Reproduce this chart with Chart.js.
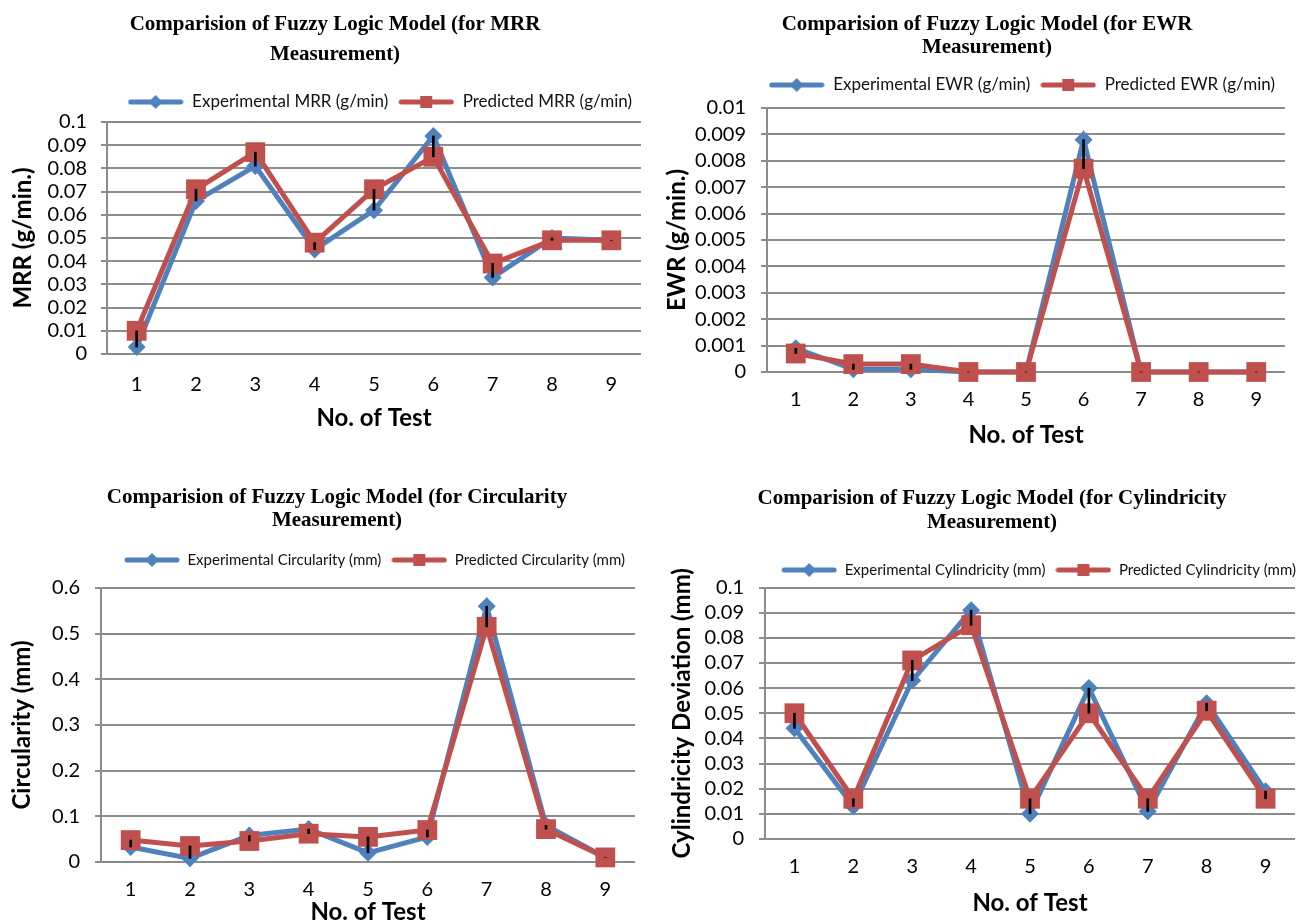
<!DOCTYPE html>
<html lang="en">
<head>
    <meta charset="UTF-8">
    <title>Comparision of Fuzzy Logic Model</title>
    <script src="https://cdn.jsdelivr.net/npm/chart.js@4"></script>
    <style>
        body {
            margin: 0;
            padding: 0;
            background: #fff;
            width: 1309px;
            height: 921px;
            overflow: hidden;
            position: relative;
        }
        canvas {
            position: absolute;
        }
    </style>
</head>
<body>
    <canvas id="mrrChart" width="655" height="440" style="left:0;top:0"></canvas>
    <canvas id="ewrChart" width="654" height="455" style="left:655px;top:0"></canvas>
    <canvas id="circChart" width="655" height="470" style="left:0;top:460px"></canvas>
    <canvas id="cylChart" width="654" height="461" style="left:655px;top:460px"></canvas>
    <script>
        // номера опытов
        const tests = ['1', '2', '3', '4', '5', '6', '7', '8', '9'];

        const mrrExp  = [0.003, 0.066, 0.081, 0.045, 0.062, 0.094, 0.033, 0.050, 0.049];
        const mrrPred = [0.010, 0.071, 0.087, 0.048, 0.071, 0.085, 0.039, 0.049, 0.049];

        const ewrExp  = [0.0009, 0.0001, 0.0001, 0, 0, 0.0088, 0, 0, 0];
        const ewrPred = [0.0007, 0.0003, 0.0003, 0, 0, 0.0077, 0, 0, 0];

        const circExp  = [0.033, 0.008, 0.058, 0.072, 0.020, 0.055, 0.560, 0.080, 0.010];
        const circPred = [0.048, 0.035, 0.046, 0.062, 0.055, 0.070, 0.515, 0.072, 0.010];

        const cylExp  = [0.044, 0.013, 0.063, 0.091, 0.010, 0.060, 0.011, 0.054, 0.019];
        const cylPred = [0.050, 0.016, 0.071, 0.085, 0.016, 0.050, 0.016, 0.051, 0.016];

        const BLUE = '#4F81BD';
        const RED = '#C0504D';
        const GRID = '#8c8c8c';

        // значок легенды: линия с маркером
        function legendIcon(color, shape) {
            const c = document.createElement('canvas');
            c.width = 56; c.height = 16;
            const g = c.getContext('2d');
            g.strokeStyle = color;
            g.lineWidth = 5;
            g.lineCap = 'round';
            g.beginPath(); g.moveTo(3, 8); g.lineTo(53, 8); g.stroke();
            g.fillStyle = color;
            if (shape === 'diamond') {
                g.beginPath(); g.moveTo(28, 1); g.lineTo(35, 8); g.lineTo(28, 15); g.lineTo(21, 8); g.fill();
            } else {
                g.fillRect(22, 2, 12, 12);
            }
            return c;
        }

        function makeChart(id, p) {
            const tickFont = {family: 'Lato', size: 20};
            const axisFont = {family: 'Lato', size: 24, weight: 'bold'};
            return new Chart(document.getElementById(id), {
                type: 'line',
                data: {
                    labels: tests,
                    datasets: [
                        {
                            label: p.legend[0], data: p.exp, order: 3,
                            borderColor: BLUE, backgroundColor: BLUE, borderWidth: 5,
                            pointStyle: 'rectRot', pointRadius: 9, pointBorderWidth: 0,
                            pointBackgroundColor: BLUE, tension: 0, clip: false
                        },
                        {
                            label: p.legend[1], data: p.pred, order: 2,
                            borderColor: RED, backgroundColor: RED, borderWidth: 5,
                            pointStyle: 'rect', pointRadius: 14, pointBorderWidth: 0,
                            pointBackgroundColor: RED, tension: 0, clip: false
                        },
                        {
                            // чёрные линии между значениями
                            type: 'bar', label: 'hl', order: 1,
                            data: p.exp.map((v, i) => [v, p.pred[i]]),
                            backgroundColor: '#000', barThickness: 2, clip: false
                        }
                    ]
                },
                options: {
                    responsive: false,
                    animation: false,
                    layout: {padding: {left: p.L, right: p.R, top: 0, bottom: 0}},
                    plugins: {
                        tooltip: {enabled: false},
                        title: {
                            display: true, text: p.title, color: '#000',
                            font: {family: 'Liberation Serif', size: 21, weight: 'bold', lineHeight: p.tlh / 21},
                            padding: {top: p.tpt, bottom: p.tpb}
                        },
                        legend: {
                            align: 'end',
                            labels: {
                                usePointStyle: true, pointStyleWidth: 56, padding: 10,
                                color: '#111', font: {family: 'Lato', size: p.lf},
                                generateLabels: () => [
                                    {text: p.legend[0], pointStyle: legendIcon(BLUE, 'diamond'), datasetIndex: 0, fontColor: '#111', lineWidth: 0},
                                    {text: p.legend[1], pointStyle: legendIcon(RED, 'square'), datasetIndex: 1, fontColor: '#111', lineWidth: 0}
                                ]
                            }
                        }
                    },
                    scales: {
                        x: {
                            offset: true,
                            grid: {display: false, drawTicks: false},
                            border: {display: false},
                            ticks: {font: tickFont, color: '#000', padding: p.xtp},
                            title: {display: true, text: 'No. of Test', color: '#000', font: axisFont, padding: {top: 0, bottom: p.xtb}},
                            afterFit: s => { s.height = p.xh; }
                        },
                        y: {
                            min: 0, max: p.max,
                            ticks: {stepSize: p.step, autoSkip: false, font: tickFont, color: '#000', padding: p.ytp,
                                callback: v => String(+v.toFixed(4))},
                            grid: {color: GRID, lineWidth: 2, tickLength: 6},
                            border: {color: GRID, width: 2},
                            title: {display: true, text: p.ytitle, color: '#000', font: axisFont, padding: {top: p.ytt, bottom: 0}},
                            afterFit: s => { s.width = p.yw; }
                        }
                    }
                },
                plugins: [{
                    id: 'legendGap',
                    beforeInit(chart) {
                        const fit = chart.legend.fit;
                        chart.legend.fit = function () { fit.call(this); this.height += p.extra; };
                    }
                }]
            });
        }

        makeChart('mrrChart', {
            exp: mrrExp, pred: mrrPred, max: 0.1, step: 0.01,
            title: ['Comparision of Fuzzy Logic Model (for MRR', 'Measurement)'],
            legend: ['Experimental MRR (g/min)', 'Predicted MRR (g/min)'],
            ytitle: 'MRR (g/min.)',
            L: 28, R: 13, tlh: 30, tpt: 9.5, tpb: 14, lf: 17, extra: 1.5,
            yw: 79, ytt: -19.4, ytp: 14, xh: 86, xtp: 19, xtb: 7.6
        });

        makeChart('ewrChart', {
            exp: ewrExp, pred: ewrPred, max: 0.01, step: 0.001,
            title: ['Comparision of Fuzzy Logic Model (for EWR', 'Measurement)'],
            legend: ['Experimental EWR (g/min)', 'Predicted EWR (g/min)'],
            ytitle: 'EWR (g/min.)',
            L: 34, R: 24, tlh: 23, tpt: 13, tpb: 7.5, lf: 17, extra: 4.5,
            yw: 78, ytt: -26.4, ytp: 15, xh: 83, xtp: 16, xtb: 5.6
        });

        makeChart('circChart', {
            exp: circExp, pred: circPred, max: 0.6, step: 0.1,
            title: ['Comparision of Fuzzy Logic Model (for Circularity', 'Measurement)'],
            legend: ['Experimental Circularity (mm)', 'Predicted Circularity (mm)'],
            ytitle: 'Circularity (mm)',
            L: 39, R: 20, tlh: 23, tpt: 26, tpb: 10.5, lf: 15, extra: 10.5,
            yw: 62, ytt: -31.4, ytp: 15, xh: 68, xtp: 16, xtb: 3.6
        });

        makeChart('cylChart', {
            exp: cylExp, pred: cylPred, max: 0.1, step: 0.01,
            title: ['Comparision of Fuzzy Logic Model (for Cylindricity', 'Measurement)'],
            legend: ['Experimental Cylindricity (mm)', 'Predicted Cylindricity (mm)'],
            ytitle: 'Cylindricity Deviation (mm)',
            L: 23, R: 3, tlh: 24, tpt: 26.5, tpb: 18, lf: 15, extra: 0,
            yw: 87, ytt: -10.4, ytp: 15, xh: 82, xtp: 16, xtb: 3.6
        });
    </script>
</body>
</html>
